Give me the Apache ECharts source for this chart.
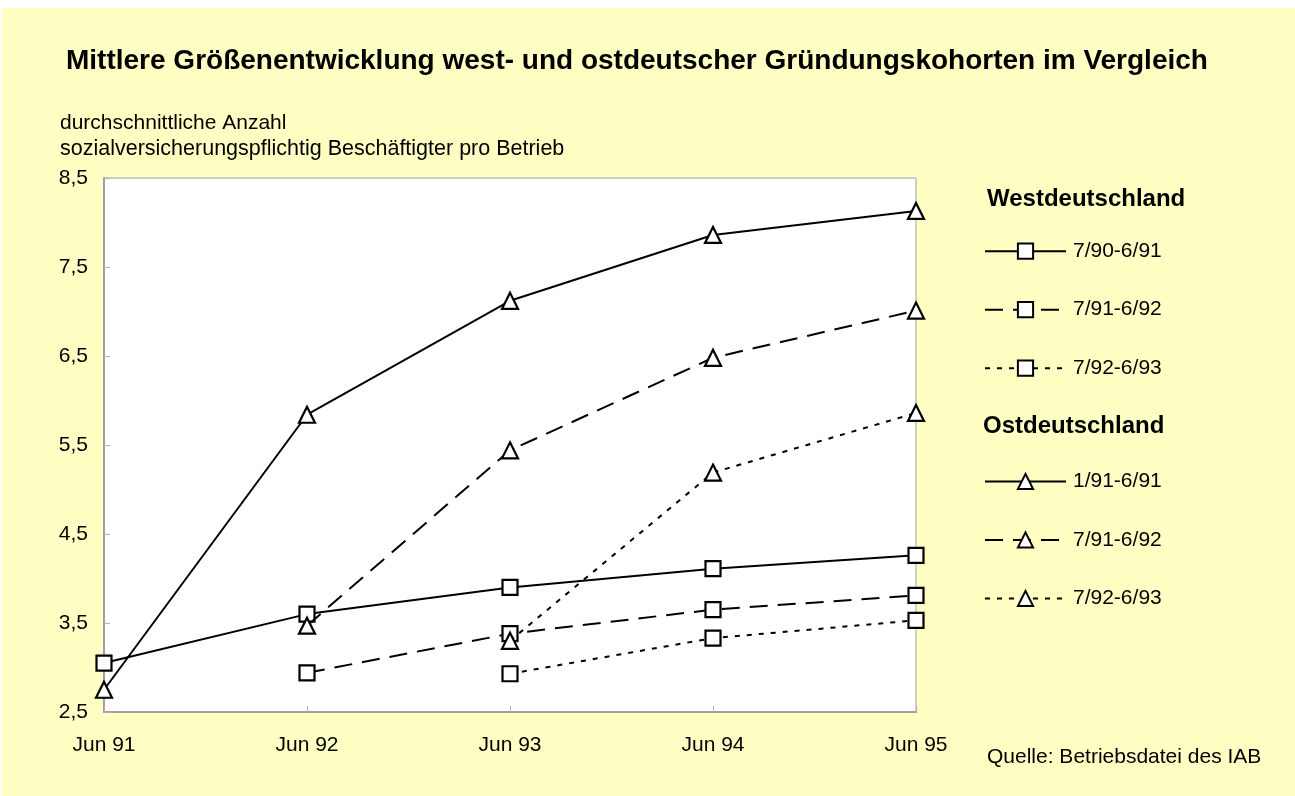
<!DOCTYPE html>
<html>
<head>
<meta charset="utf-8">
<script src="https://cdn.jsdelivr.net/npm/echarts@6/dist/echarts.min.js"></script>
<style>
html,body{margin:0;padding:0;background:#fff;}
#c{width:1295px;height:796px;}
</style>
</head>
<body>
<div id="c"></div>
<script>
const categories = ['Jun 91', 'Jun 92', 'Jun 93', 'Jun 94', 'Jun 95'];
const yTicks = [2.5, 3.5, 4.5, 5.5, 6.5, 7.5, 8.5];

const west_90_91 = [3.05, 3.60, 3.90, 4.11, 4.26];
const west_91_92 = [null, 2.94, 3.38, 3.65, 3.81];
const west_92_93 = [null, null, 2.93, 3.33, 3.53];
const ost_91_91 = [2.75, 5.84, 7.12, 7.86, 8.13];
const ost_91_92 = [null, 3.47, 5.44, 6.48, 7.01];
const ost_92_93 = [null, null, 3.30, 5.19, 5.86];

const westLabels = ['7/90-6/91', '7/91-6/92', '7/92-6/93'];
const ostLabels = ['1/91-6/91', '7/91-6/92', '7/92-6/93'];

const FONT = '"Liberation Sans", Arial, sans-serif';
const DASH = [18, 10];
const DOT = [5, 7];

function mk(name, data, symbol, type) {
  return {
    name: name,
    type: 'line',
    data: data,
    symbol: symbol,
    symbolSize: symbol === 'rect' ? 15 : 16,
    showSymbol: true,
    lineStyle: { color: '#000', width: 2, type: type },
    itemStyle: { color: '#fff', borderColor: '#000', borderWidth: 2.2 },
    emphasis: { disabled: true },
    z: symbol === 'rect' ? 3 : 4
  };
}

const series = [
  mk('W|' + westLabels[0], west_90_91, 'rect', 'solid'),
  mk('W|' + westLabels[1], west_91_92, 'rect', DASH),
  mk('W|' + westLabels[2], west_92_93, 'rect', DOT),
  mk('O|' + ostLabels[0], ost_91_91, 'triangle', 'solid'),
  mk('O|' + ostLabels[1], ost_91_92, 'triangle', DASH),
  mk('O|' + ostLabels[2], ost_92_93, 'triangle', DOT)
];

const legendCommon = {
  orient: 'vertical',
  left: 984,
  padding: 0,
  itemWidth: 81,
  itemHeight: 19,
  itemGap: 37.5,
  selectedMode: false,
  formatter: n => n.split('|')[1],
  textStyle: { fontFamily: FONT, fontSize: 21, color: '#000', lineHeight: 20, padding: [0, 0, 0, 2] }
};

const chart = echarts.init(document.getElementById('c'), null, { renderer: 'canvas' });
chart.setOption({
  animation: false,
  backgroundColor: '#ffffff',
  graphic: [
    { type: 'rect', left: 2, top: 8, shape: { width: 1293, height: 788 }, style: { fill: '#FFFFC4' }, z: -10, silent: true },
    { type: 'text', left: 66, top: 47, style: { text: 'Mittlere Größenentwicklung west- und ostdeutscher Gründungskohorten im Vergleich', font: 'bold 28px ' + FONT, fill: '#000' } },
    { type: 'text', left: 60, top: 113, style: { text: 'durchschnittliche Anzahl', font: '21px ' + FONT, fill: '#000' } },
    { type: 'text', left: 60, top: 138, style: { text: 'sozialversicherungspflichtig Beschäftigter pro Betrieb', font: '21.5px ' + FONT, fill: '#000' } },
    { type: 'text', left: 987, top: 187, style: { text: 'Westdeutschland', font: 'bold 24px ' + FONT, fill: '#000' } },
    { type: 'text', left: 983, top: 414, style: { text: 'Ostdeutschland', font: 'bold 24px ' + FONT, fill: '#000' } },
    { type: 'text', left: 987, top: 747, style: { text: 'Quelle: Betriebsdatei des IAB', font: '21px ' + FONT, fill: '#000' } }
  ],
  legend: [
    Object.assign({}, legendCommon, { top: 240.7, data: series.slice(0, 3).map(s => s.name) }),
    Object.assign({}, legendCommon, { top: 471, data: series.slice(3).map(s => s.name) })
  ],
  grid: {
    left: 104, top: 178, width: 812, height: 534,
    show: true, backgroundColor: '#ffffff', borderColor: '#a0a0a0', borderWidth: 1
  },
  xAxis: {
    type: 'category',
    data: categories,
    boundaryGap: false,
    axisLine: { lineStyle: { color: '#a0a0a0', width: 2 } },
    axisTick: { inside: true, length: 6, lineStyle: { color: '#b0b0b0' } },
    axisLabel: { fontFamily: FONT, fontSize: 21, color: '#000', margin: 23 },
    splitLine: { show: false }
  },
  yAxis: {
    type: 'value',
    min: 2.5,
    max: 8.5,
    axisLine: { show: true, lineStyle: { color: '#a0a0a0', width: 2 } },
    axisTick: { show: true, inside: true, length: 6, customValues: yTicks, lineStyle: { color: '#b0b0b0' } },
    axisLabel: { customValues: yTicks, fontFamily: FONT, fontSize: 21, color: '#000', margin: 16,
      formatter: v => String(v).replace('.', ',') },
    splitLine: { show: false }
  },
  series: series
});
</script>
</body>
</html>
